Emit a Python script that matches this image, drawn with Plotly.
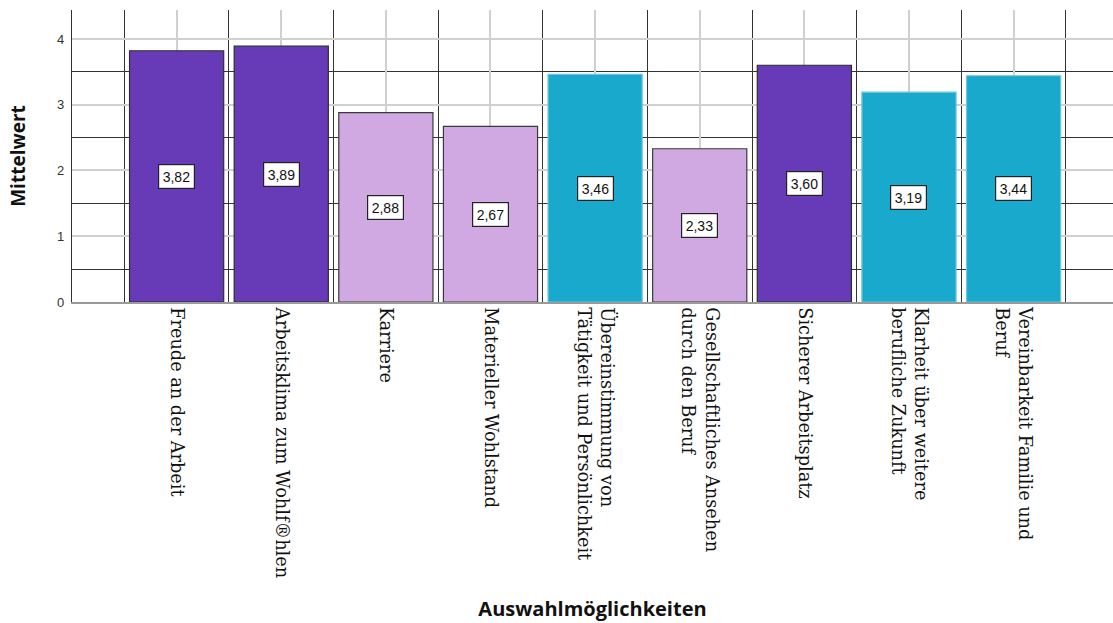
import plotly.graph_objects as go

# Auswahlmöglichkeiten und ihre Mittelwerte
categories = [
    "Freude an der Arbeit",
    "Arbeitsklima zum Wohlf®hlen",
    "Karriere",
    "Materieller Wohlstand",
    "Übereinstimmung von<br>Tätigkeit und Persönlichkeit",
    "Gesellschaftliches Ansehen<br>durch den Beruf",
    "Sicherer Arbeitsplatz",
    "Klarheit über weitere<br>berufliche Zukunft",
    "Vereinbarkeit Familie und<br>Beruf",
]
means = [3.82, 3.89, 2.88, 2.67, 3.46, 2.33, 3.60, 3.19, 3.44]
groups = ["A", "A", "B", "B", "C", "B", "A", "C", "C"]

fill_colors = {"A": "#673AB7", "B": "#D0A9E3", "C": "#19A9CD"}
edge_colors = {"A": "#2E2E2E", "B": "#3A3A3A", "C": "#6CC6E0"}

positions = list(range(len(categories)))

fig = go.Figure()
fig.add_trace(go.Bar(
    x=positions,
    y=means,
    width=0.9,
    marker=dict(
        color=[fill_colors[g] for g in groups],
        line=dict(color=[edge_colors[g] for g in groups], width=1.2),
    ),
    hoverinfo="skip",
    showlegend=False,
))

# Wertbeschriftungen mittig im Balken
for xi, v in zip(positions, means):
    fig.add_annotation(
        x=xi, y=v / 2, xref="x", yref="y",
        text=f"{v:.2f}".replace(".", ","),
        showarrow=False,
        font=dict(family="Liberation Sans, Arial", size=14, color="#111"),
        bgcolor="white", bordercolor="#222", borderwidth=1.2, borderpad=3.5,
    )

fig.update_layout(
    width=1113, height=623,
    margin=dict(l=72, r=0, t=10, b=321),
    plot_bgcolor="white", paper_bgcolor="white",
    bargap=0.1,
    xaxis=dict(
        range=[-1, 8.95],
        tickvals=positions,
        ticktext=categories,
        tickangle=90,
        tickfont=dict(family="DejaVu Serif", size=17.7, color="#111"),
        showgrid=True, gridcolor="#D0D0D0", gridwidth=1.5,
        minor=dict(tick0=-0.5, dtick=1, showgrid=True, gridcolor="#333333", gridwidth=1.3),
        zeroline=False,
        showline=True, linecolor="#9A9A9A", linewidth=1.5,
        ticks="", ticklen=0,
        title=dict(text="<b>Auswahlmöglichkeiten</b>",
                   font=dict(family="Open Sans", size=20, color="#111"),
                   standoff=25),
        automargin=False,
    ),
    yaxis=dict(
        range=[0, 4.44],
        tickvals=[0, 1, 2, 3, 4],
        tickfont=dict(family="Liberation Sans, Arial", size=13, color="#333"),
        ticklabelstandoff=4,
        showgrid=True, gridcolor="#D0D0D0", gridwidth=1.5,
        minor=dict(tick0=0.5, dtick=1, showgrid=True, gridcolor="#333333", gridwidth=1.3),
        zeroline=False,
        showline=True, linecolor="#333333", linewidth=1.3,
        ticks="", ticklen=0,
        title=dict(text="<b>Mittelwert</b>",
                   font=dict(family="Open Sans", size=19, color="#111"),
                   standoff=26),
        automargin=False,
    ),
)

fig.write_html("out.html")
